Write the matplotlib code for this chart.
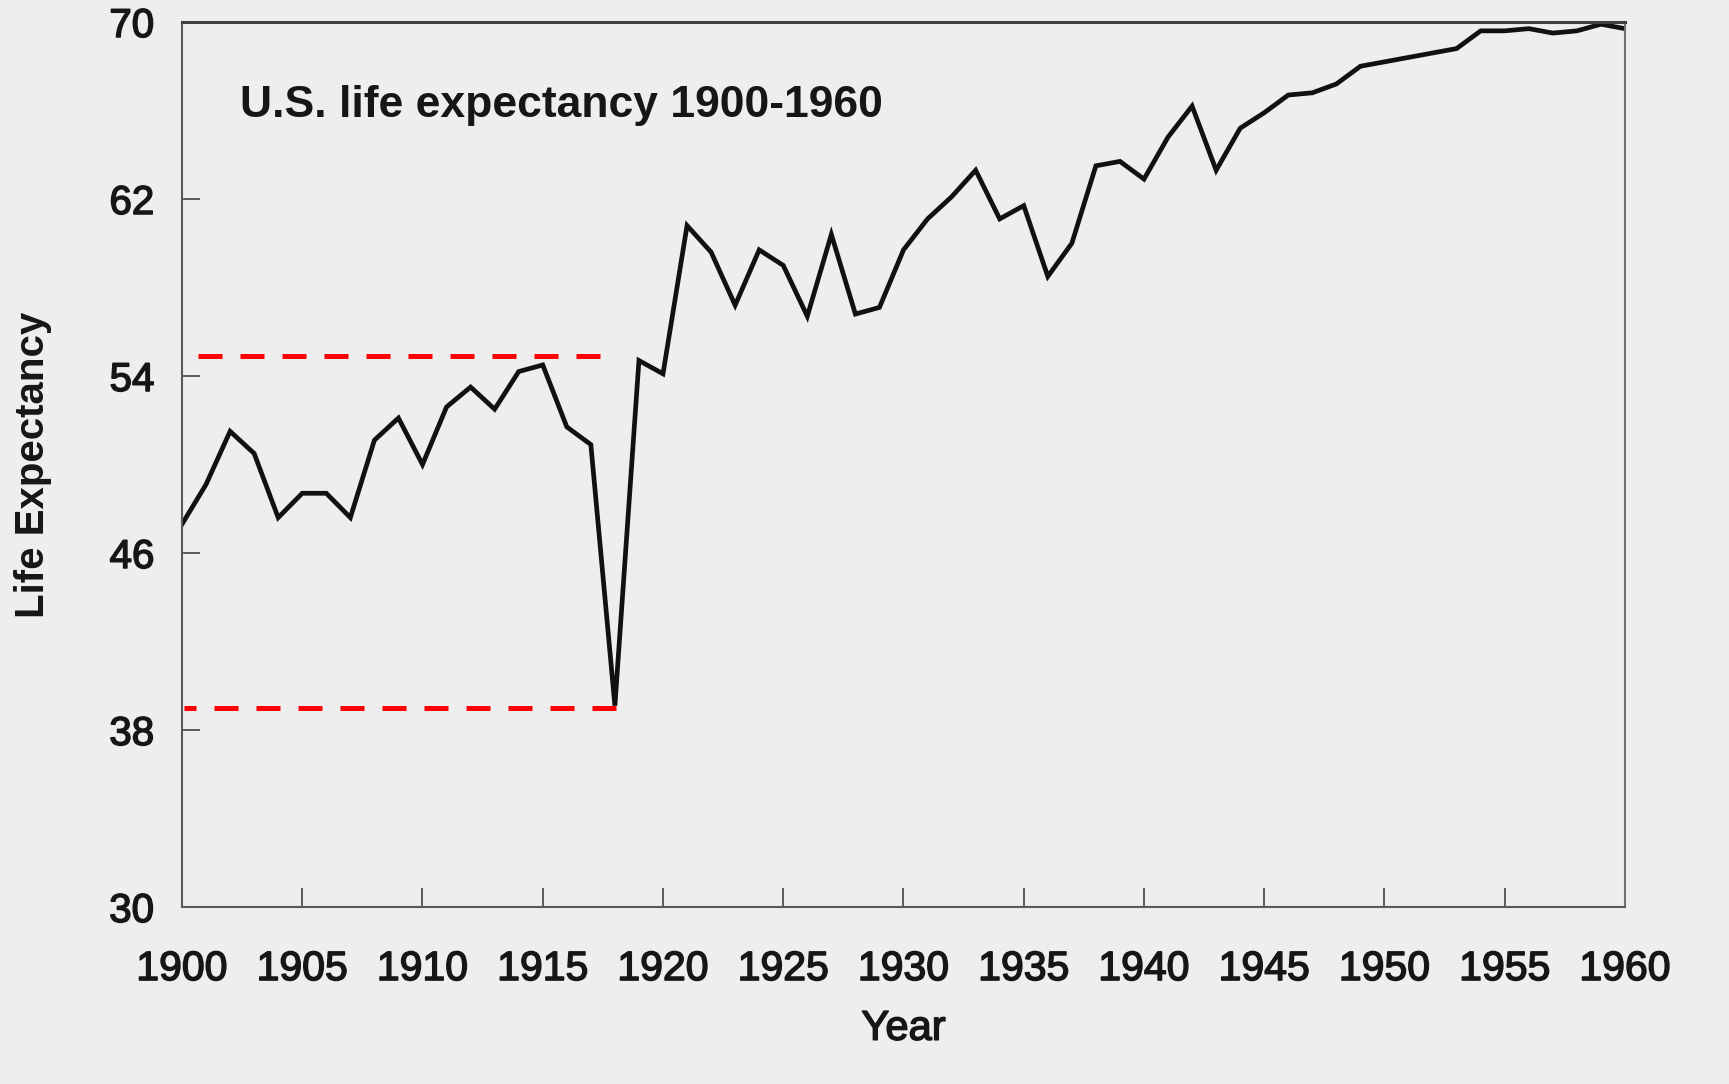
# U.S. life expectancy 1900-1960, redrawn from a scanned page
import matplotlib
matplotlib.use('Agg')
import matplotlib.pyplot as plt
import matplotlib.patheffects as pe

plt.rcParams['font.family'] = ['Liberation Sans', 'DejaVu Sans']

# --- Data ---
years = list(range(1900, 1961))
life_exp = [47.3, 49.1, 51.5, 50.5, 47.6, 48.7, 48.7, 47.6, 51.1, 52.1,
            50.0, 52.6, 53.5, 52.5, 54.2, 54.5, 51.7, 50.9, 39.1, 54.7,
            54.1, 60.8, 59.6, 57.2, 59.7, 59.0, 56.7, 60.4, 56.8, 57.1,
            59.7, 61.1, 62.1, 63.3, 61.1, 61.7, 58.5, 60.0, 63.5, 63.7,
            62.9, 64.8, 66.2, 63.3, 65.2, 65.9, 66.7, 66.8, 67.2, 68.0,
            68.2, 68.4, 68.6, 68.8, 69.6, 69.6, 69.7, 69.5, 69.6, 69.9, 69.7]

x_ticks = list(range(1900, 1961, 5))
y_ticks = [30, 38, 46, 54, 62, 70]

# red dashed reference lines: (x start, x end, level)
ref_upper = (1900.67, 1917.37, 54.9)
ref_lower = (1900.08, 1918.03, 39.0)

# --- Figure ---
bg = '#eeeeee'
spine_col = '#5a5a5a'
ink = '#161616'
# scanned print looks heavier than a clean font, thicken it a little
heavy = [pe.withStroke(linewidth=1.1, foreground=ink)]

fig = plt.figure(figsize=(17.29, 10.84), dpi=100, facecolor=bg)
ax = fig.add_axes([0.10526, 0.16328, 0.83459, 0.81642], facecolor=bg)

ax.plot(years, life_exp, color='#111111', linewidth=3.4, solid_joinstyle='miter')

red_lw = 3.6
ax.plot(ref_upper[:2], [ref_upper[2]] * 2, color='#ff0000', linewidth=red_lw,
        linestyle=(0, (4.8, 3.6)))
ax.plot(ref_lower[:2], [ref_lower[2]] * 2, color='#ff0000', linewidth=red_lw,
        linestyle=(2.4, (4.8, 3.6)))

ax.set_xlim(1900, 1960)
ax.set_ylim(30, 70)
ax.set_xticks(x_ticks)
ax.set_yticks(y_ticks)

ax.tick_params(axis='x', direction='in', length=14, width=1.4, color=spine_col,
               labelsize=29.5, pad=31, labelcolor=ink)
ax.tick_params(axis='y', direction='in', length=13, width=1.4, color=spine_col,
               labelsize=29, pad=20, labelcolor=ink)
for lab in ax.get_xticklabels() + ax.get_yticklabels():
    lab.set_path_effects(heavy)

for side, sp in ax.spines.items():
    sp.set_color(spine_col)
    sp.set_linewidth(1.5)
ax.spines['top'].set_linewidth(2.2)
ax.spines['top'].set_color('#404040')
ax.spines['right'].set_color('#707070')

ax.set_xlabel("Year", fontsize=30, va='top', color=ink, path_effects=heavy)
ax.xaxis.set_label_coords(0.5, -0.115)
ax.set_ylabel("Life Expectancy", fontsize=29, fontweight='bold', va='center', color=ink)
ax.yaxis.set_label_coords(-0.1033, 0.5)

ax.text(0.0402, 0.8927, "U.S. life expectancy 1900-1960", transform=ax.transAxes,
        fontsize=32, fontweight='bold', ha='left', va='baseline', color=ink)

plt.savefig("out.png", dpi=100, facecolor=bg)
plt.close()
